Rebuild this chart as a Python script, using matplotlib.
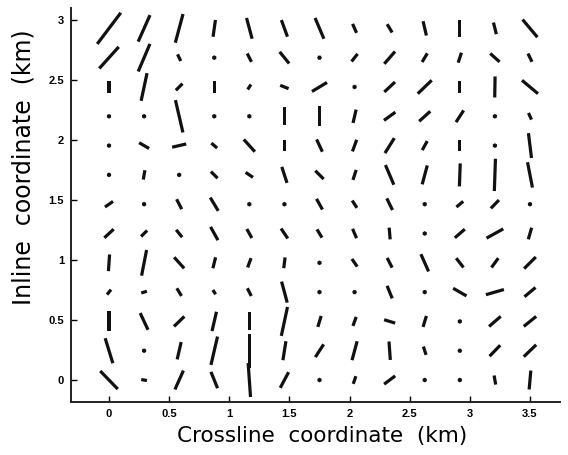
import numpy as np
import matplotlib.pyplot as plt

# bin centres (km)
crossline = np.arange(13) * 3.5 / 12
inline = np.arange(13) * 2.93 / 12

# anisotropy magnitude per bin, rows from inline 0 upward
magnitude = [
    [25.2, 5.8, 20.7, 17.6, 34.0, 17.8, 3.0, 8.1, 13.8, 3.0, 3.0, 9.2, 19.0],
    [26.2, 3.0, 17.8, 29.1, 34.0, 19.2, 15.2, 19.6, 18.5, 8.8, 4.0, 15.3, 17.2],
    [20.0, 18.4, 14.4, 19.8, 18.0, 29.6, 11.5, 9.6, 11.5, 11.5, 3.0, 15.4, 15.9],
    [6.4, 5.9, 9.0, 5.1, 8.7, 21.8, 3.0, 4.0, 13.6, 3.0, 15.4, 18.7, 14.4],
    [16.7, 26.2, 14.9, 11.3, 9.9, 10.8, 3.0, 9.3, 10.9, 18.9, 11.8, 11.5, 16.5],
    [12.7, 8.5, 9.5, 15.2, 10.3, 12.0, 9.7, 10.2, 11.8, 3.0, 13.2, 19.1, 12.1],
    [9.8, 3.0, 11.2, 15.5, 3.0, 3.0, 12.2, 8.7, 13.0, 3.0, 8.8, 11.6, 3.0],
    [3.0, 9.5, 3.0, 9.4, 8.9, 16.9, 11.8, 10.5, 21.4, 19.6, 23.0, 32.3, 25.8],
    [3.0, 11.5, 14.4, 7.6, 16.5, 11.7, 13.6, 12.4, 17.7, 10.3, 11.7, 3.0, 25.0],
    [3.0, 3.0, 33.2, 3.0, 3.0, 18.4, 20.4, 13.7, 14.0, 14.9, 14.0, 3.0, 7.3],
    [12.7, 28.3, 9.4, 11.8, 6.0, 9.0, 17.5, 3.0, 14.6, 19.3, 11.7, 21.0, 20.8],
    [29.0, 30.0, 7.4, 3.0, 9.4, 15.0, 4.0, 9.7, 16.3, 10.2, 10.5, 12.5, 9.2],
    [39.0, 29.0, 29.7, 17.0, 21.5, 17.7, 22.6, 9.8, 9.7, 14.7, 17.7, 12.0, 23.0],
]

# azimuth in degrees, clockwise from the inline direction
azimuth = [
    [-44, -80, 24, -22, -4, 28, 0, 19, 53, 0, 0, -10, 5],
    [-17, 0, 13, 13, 0, 9, 33, 15, -4, -18, -30, 44, 46],
    [0, -25, 46, 13, 0, 12, 17, 20, -73, 17, 0, 49, 51],
    [39, 73, -31, -32, -27, -15, 0, -20, -22, 0, -60, 74, 50],
    [4, 11, -42, 14, 20, 7, 0, -35, -27, -24, -38, 36, 45],
    [47, 45, -39, -29, -29, -34, -31, -23, -5, 0, 49, 61, 16],
    [55, 0, -27, -31, 0, 0, -29, -33, -26, 0, 50, 44, 0],
    [0, 10, 0, -45, -56, -18, -45, 18, -23, 15, 2, 2, -11],
    [0, -60, 77, -49, -42, 0, -25, 20, 32, 29, 0, 0, -7],
    [0, 0, -13, 0, 0, 0, 0, 13, 54, 48, 33, 0, -24],
    [0, 12, 45, 0, 33, -68, 59, 0, 47, 46, 0, 1, -50],
    [42, 23, -26, 0, -27, -39, -30, 38, 41, 31, 18, -48, -26],
    [37, 24, 15, 8, -15, -20, -23, -24, -31, -13, 0, -14, -40],
]

xticks = [0, 0.5, 1, 1.5, 2, 2.5, 3, 3.5]
yticks = [0, 0.5, 1, 1.5, 2, 2.5, 3]

plt.rcParams['font.family'] = ['Liberation Sans', 'DejaVu Sans']

X, Y = np.meshgrid(crossline, inline)
mag = np.array(magnitude)
az = np.radians(np.array(azimuth))
U = mag * np.sin(az)
V = mag * np.cos(az)

fig = plt.figure(figsize=(5.68, 4.55), dpi=100)
ax = fig.add_axes([0.125, 0.1165, 0.861, 0.866])

# headless quiver = orientation sticks centred on each bin
ax.quiver(X, Y, U, V, pivot='mid', angles='xy', scale_units='xy', scale=120,
          units='dots', width=3.2, headwidth=1, headlength=0, headaxislength=0,
          minlength=1.5, color='#111111')

ax.set_xlim(-0.316, 3.75)
ax.set_ylim(-0.183, 3.1)

ax.spines['top'].set_visible(False)
ax.spines['right'].set_visible(False)
for s in ('left', 'bottom'):
    ax.spines[s].set_linewidth(1.4)
    ax.spines[s].set_color('#222222')

ax.set_xticks(xticks)
ax.set_xticklabels([f'{t:g}' for t in xticks])
ax.set_yticks(yticks)
ax.set_yticklabels([f'{t:g}' for t in yticks])
ax.tick_params(direction='in', length=4, width=1, labelsize=8, pad=5)
for lab in ax.get_xticklabels() + ax.get_yticklabels():
    lab.set_fontweight('bold')

ax.set_xlabel('Crossline  coordinate  (km)', family='DejaVu Sans', fontsize=15.5)
ax.xaxis.set_label_coords(0.513, -0.06)
ax.set_ylabel('Inline  coordinate  (km)', family='DejaVu Sans', fontsize=17)
ax.yaxis.set_label_coords(-0.072, 0.595)

fig.savefig('out.png', dpi=100)
